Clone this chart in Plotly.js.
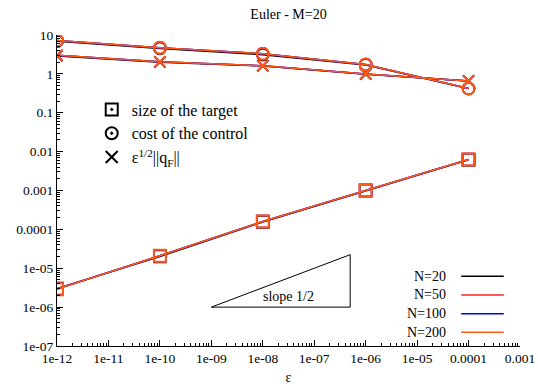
<!DOCTYPE html>
<html>
<head>
<meta charset="utf-8">
<script src="https://cdn.plot.ly/plotly-3.0.1.min.js"></script>
<style>html,body{margin:0;padding:0;background:#fff;}#chart{width:538px;height:386px;}</style>
</head>
<body>
<div id="chart"></div>
<script>
// ---- data ----
const eps = [1e-12, 1e-10, 1e-8, 1e-6, 1e-4];
const seriesNames = ["N=20", "N=50", "N=100", "N=200"];
const seriesColors = ["#000000", "#ff2020", "#0000ff", "#ff5a14"];
// size of the target
const target = [
  [3.0e-6, 2.0e-5, 1.55e-4, 1.0e-3, 6.2e-3],
  [2.9e-6, 2.1e-5, 1.6e-4, 1.0e-3, 6.3e-3],
  [2.9e-6, 2.1e-5, 1.6e-4, 1.0e-3, 6.3e-3],
  [2.9e-6, 2.1e-5, 1.6e-4, 1.0e-3, 6.3e-3]
];
// cost of the control
const cost = [
  [6.9, 4.5, 3.1, 1.7, 0.42],
  [7.2, 4.7, 3.3, 1.75, 0.42],
  [7.2, 4.7, 3.3, 1.75, 0.42],
  [7.2, 4.7, 3.3, 1.75, 0.42]
];
// eps^{1/2} ||q_F||
const qF = [
  [2.9, 2.0, 1.6, 0.98, 0.66],
  [3.0, 2.05, 1.62, 1.0, 0.66],
  [3.0, 2.05, 1.62, 1.0, 0.66],
  [3.0, 2.05, 1.62, 1.0, 0.66]
];
const markerLegend = ["size of the target", "cost of the control", "ε<sup>1/2</sup>||q<sub>F</sub>||"];
const markerSymbols = ["square-open-dot", "circle-open-dot", "x-thin-open"];
// slope triangle
const slopeX = [1e-9, 5e-7, 5e-7, 1e-9];
const slopeY = [1e-6, 1e-6, 2.236e-5, 1e-6];
const xTickVals = [1e-12,1e-11,1e-10,1e-9,1e-8,1e-7,1e-6,1e-5,1e-4,1e-3];
const xTickText = ["1e-12","1e-11","1e-10","1e-09","1e-08","1e-07","1e-06","1e-05","0.0001","0.001"];
const yTickVals = [1e-7,1e-6,1e-5,1e-4,1e-3,1e-2,1e-1,1,10];
const yTickText = ["1e-07","1e-06","1e-05","0.0001","0.001","0.01","0.1","1","10"];

const FONT = "Liberation Serif";
const traces = [];
const groups = [target, cost, qF];
const syms = ["square-open", "circle-open", "x-thin-open"];
for (let i = 0; i < seriesNames.length; i++) {
  const last = i === seriesNames.length - 1;
  for (let g = 0; g < groups.length; g++) {
    traces.push({
      x: eps, y: groups[g][i], mode: "lines+markers", type: "scatter",
      line: {color: seriesColors[i], width: 1.5},
      marker: {symbol: syms[g], size: g === 2 ? 11 : 12, color: seriesColors[i],
               line: {color: seriesColors[i], width: last ? 2 : 1.6}},
      showlegend: false, hoverinfo: "skip"
    });
  }
}
// slope triangle
traces.push({x: slopeX, y: slopeY, mode: "lines", type: "scatter", line: {color: "#000", width: 1}, showlegend: false, hoverinfo: "skip"});
// marker legend entries
for (let k = 0; k < markerLegend.length; k++) {
  traces.push({x: [null], y: [null], mode: "markers", type: "scatter", name: markerLegend[k],
    marker: {symbol: markerSymbols[k], size: 10, color: "#000", line: {color: "#000", width: 0.8}}, showlegend: true});
}

const annotations = [{
  x: Math.log10(1.0e-7) - 0.5, y: Math.log10(1.9e-6), xref: "x", yref: "y", text: "slope 1/2",
  showarrow: false, font: {family: FONT, size: 14, color: "#000"}
}];
const shapes = [];
const legTop = 0.224, legStep = 0.06;
for (let i = 0; i < seriesNames.length; i++) {
  const yy = legTop - i * legStep;
  annotations.push({xref: "paper", yref: "paper", x: 0.845, y: yy, xanchor: "right", yanchor: "middle",
    text: seriesNames[i], showarrow: false, font: {family: FONT, size: 14, color: "#000"}});
  shapes.push({type: "line", xref: "paper", yref: "paper", x0: 0.873, x1: 0.965, y0: yy, y1: yy,
    line: {color: seriesColors[i], width: 1.5}});
}

const axisCommon = {
  type: "log", showgrid: false, zeroline: false, showline: true, linecolor: "#000", linewidth: 1,
  ticks: "inside", ticklen: 6, tickcolor: "#000", tickwidth: 1, mirror: false,
  tickfont: {family: FONT, size: 13.5, color: "#000"},
  minor: {ticks: "inside", ticklen: 3, tickcolor: "#000", dtick: "D1", showgrid: false}
};
const layout = {
  width: 538, height: 386,
  margin: {l: 57, r: 18, t: 35, b: 40},
  paper_bgcolor: "#fff", plot_bgcolor: "#fff",
  font: {family: FONT, size: 14, color: "#000"},
  title: {text: "Euler - M=20", x: 0.5, xref: "paper", y: 0.963, yanchor: "middle", font: {family: FONT, size: 14, color: "#000"}},
  xaxis: Object.assign({}, axisCommon, {range: [-12, -3], tickvals: xTickVals, ticktext: xTickText,
    title: {text: "ε", font: {family: FONT, size: 14, color: "#000"}, standoff: 6}}),
  yaxis: Object.assign({}, axisCommon, {range: [-7, 1], tickvals: yTickVals, ticktext: yTickText}),
  showlegend: true,
  legend: {x: 0.075, y: 0.815, xanchor: "left", yanchor: "top", bgcolor: "rgba(0,0,0,0)",
    font: {family: FONT, size: 16, color: "#000"}, tracegroupgap: 0, itemsizing: "constant"},
  annotations: annotations,
  shapes: shapes
};
Plotly.newPlot("chart", traces, layout, {staticPlot: true});
</script>
</body>
</html>
